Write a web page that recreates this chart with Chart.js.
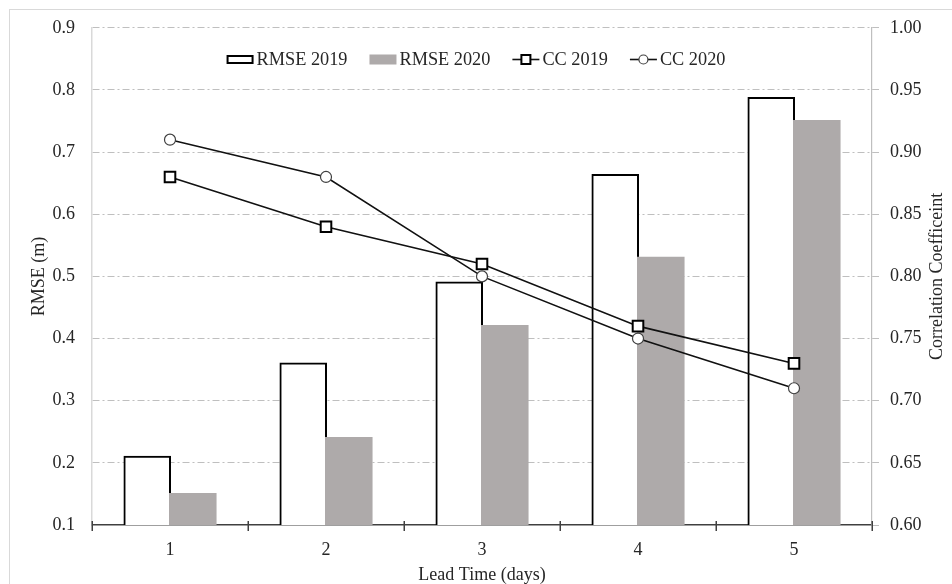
<!DOCTYPE html>
<html>
<head>
<meta charset="utf-8">
<script src="https://cdn.jsdelivr.net/npm/chart.js@4"></script>
<style>
  html, body { margin: 0; padding: 0; background: #ffffff; }
  #wrap { width: 952px; height: 584px; }
</style>
</head>
<body>
<div id="wrap"><canvas id="chart" width="952" height="584"></canvas></div>
<script>
// Forecast skill versus lead time
const leadDays = ['1', '2', '3', '4', '5'];
const rmse2019 = [0.21, 0.36, 0.49, 0.663, 0.787];
const rmse2020 = [0.15, 0.24, 0.42, 0.53, 0.75];
const cc2019 = [0.88, 0.84, 0.81, 0.76, 0.73];
const cc2020 = [0.91, 0.88, 0.80, 0.75, 0.71];

const seriesLabels = ['RMSE 2019', 'RMSE 2020', 'CC 2019', 'CC 2020'];
const xTitle = 'Lead Time (days)';
const yTitle = 'RMSE (m)';
const y1Title = 'Correlation Coefficeint';

const FONT = "'Liberation Serif', 'Times New Roman', serif";
const TEXT = '#262626';
const GRID = '#bfbfbf';
const BAR_GREY = '#aeaaaa';

// White page with a light frame round the figure
const framePlugin = {
  id: 'frame',
  beforeDraw(chart) {
    const ctx = chart.ctx;
    ctx.save();
    ctx.fillStyle = '#ffffff';
    ctx.fillRect(0, 0, chart.width, chart.height);
    ctx.strokeStyle = '#d9d9d9';
    ctx.lineWidth = 1;
    ctx.strokeRect(9.5, 9.5, chart.width + 20, chart.height + 20);
    ctx.restore();
  }
};

// The outlined 2019 bars sit on the left of each pair but are painted
// underneath the grey 2020 bars, so the grey bar hides the shared edge.
const barLayerPlugin = {
  id: 'barLayer',
  beforeDatasetDraw(chart, args) {
    if (args.index === 1) {
      const a = chart.chartArea;
      const ctx = chart.ctx;
      ctx.save();
      ctx.beginPath();
      ctx.rect(a.left, a.top, a.right - a.left, a.bottom - a.top);
      ctx.clip();
      chart.getDatasetMeta(0).controller.draw();
      ctx.restore();
    } else if (args.index === 0) {
      return false;
    }
  }
};

// Tick marks that cross the category axis at the category boundaries
const crossTicksPlugin = {
  id: 'crossTicks',
  afterDraw(chart) {
    const x = chart.scales.x;
    const ctx = chart.ctx;
    const yb = chart.chartArea.bottom;
    ctx.save();
    ctx.strokeStyle = '#404040';
    ctx.lineWidth = 1.5;
    for (let i = 0; i <= leadDays.length; i++) {
      const px = Math.round(x.getPixelForValue(i - 0.5)) + 0.25;
      ctx.beginPath();
      ctx.moveTo(px, yb - 4);
      ctx.lineTo(px, yb + 6);
      ctx.stroke();
    }
    ctx.restore();
  }
};

// Right-hand axis title, reading upward
const rightTitlePlugin = {
  id: 'rightTitle',
  afterDraw(chart) {
    const ctx = chart.ctx;
    const a = chart.chartArea;
    ctx.save();
    ctx.translate(937, (a.top + a.bottom) / 2);
    ctx.rotate(-Math.PI / 2);
    ctx.font = '18px ' + FONT;
    ctx.fillStyle = TEXT;
    ctx.textAlign = 'center';
    ctx.textBaseline = 'middle';
    ctx.fillText(y1Title, 0, 0);
    ctx.restore();
  }
};

// Legend row drawn inside the plot, above the data
const legendPlugin = {
  id: 'insideLegend',
  afterDraw(chart) {
    const ctx = chart.ctx;
    const ds = chart.data.datasets;
    ctx.save();
    ctx.font = '18.3px ' + FONT;
    const sym = 27, gapText = 3, gapItem = 22;
    const widths = ds.map(d => ctx.measureText(d.label).width);
    const total = widths.reduce((s, w) => s + sym + gapText + w, 0) + gapItem * (ds.length - 1);
    let x = chart.width / 2 - total / 2;
    const y = 59.5;
    ds.forEach((d, i) => {
      if (d.type === 'bar') {
        if (d.borderWidth) {
          ctx.fillStyle = d.backgroundColor;
          ctx.fillRect(x, y - 4.5, sym, 9);
          ctx.lineWidth = d.borderWidth;
          ctx.strokeStyle = d.borderColor;
          ctx.strokeRect(x + 1, y - 3.5, sym - 2, 7);
        } else {
          ctx.fillStyle = d.backgroundColor;
          ctx.fillRect(x, y - 5, sym, 10);
        }
      } else {
        ctx.strokeStyle = d.borderColor;
        ctx.lineWidth = d.borderWidth;
        ctx.beginPath();
        ctx.moveTo(x, y);
        ctx.lineTo(x + sym, y);
        ctx.stroke();
        const cx = x + sym / 2;
        ctx.fillStyle = '#ffffff';
        ctx.strokeStyle = d.pointBorderColor;
        ctx.lineWidth = d.pointBorderWidth;
        ctx.beginPath();
        if (d.pointStyle === 'rect') {
          ctx.rect(cx - 4.5, y - 4.5, 9, 9);
        } else {
          ctx.arc(cx, y, 4.5, 0, Math.PI * 2);
        }
        ctx.fill();
        ctx.stroke();
      }
      ctx.fillStyle = TEXT;
      ctx.textAlign = 'left';
      ctx.textBaseline = 'middle';
      ctx.fillText(d.label, x + sym + gapText, y + 1);
      x += sym + gapText + widths[i] + gapItem;
    });
    ctx.restore();
  }
};

new Chart(document.getElementById('chart'), {
  type: 'bar',
  data: {
    labels: leadDays,
    datasets: [
      {
        type: 'bar',
        label: seriesLabels[0],
        data: rmse2019,
        yAxisID: 'y',
        backgroundColor: '#ffffff',
        borderColor: '#000000',
        borderWidth: 2,
        borderSkipped: 'start',
        inflateAmount: 1,
        barPercentage: 1,
        categoryPercentage: 0.584,
        order: 2
      },
      {
        type: 'bar',
        label: seriesLabels[1],
        data: rmse2020,
        yAxisID: 'y',
        backgroundColor: BAR_GREY,
        borderWidth: 0,
        inflateAmount: 1,
        barPercentage: 1,
        categoryPercentage: 0.584,
        order: 3
      },
      {
        type: 'line',
        label: seriesLabels[2],
        data: cc2019,
        yAxisID: 'y1',
        borderColor: '#111111',
        borderWidth: 1.6,
        pointStyle: 'rect',
        pointRadius: 7.5,
        pointBorderWidth: 2,
        pointBorderColor: '#000000',
        pointBackgroundColor: '#ffffff',
        tension: 0,
        order: 1
      },
      {
        type: 'line',
        label: seriesLabels[3],
        data: cc2020,
        yAxisID: 'y1',
        borderColor: '#111111',
        borderWidth: 1.6,
        pointStyle: 'circle',
        pointRadius: 5.5,
        pointBorderWidth: 1.2,
        pointBorderColor: '#404040',
        pointBackgroundColor: '#ffffff',
        tension: 0,
        order: 0
      }
    ]
  },
  options: {
    responsive: false,
    animation: false,
    events: [],
    layout: { padding: { top: 26, left: 0, right: 0, bottom: 0 } },
    plugins: {
      legend: { display: false },
      tooltip: { enabled: false },
      title: { display: false }
    },
    scales: {
      x: {
        type: 'category',
        offset: true,
        grid: { display: false },
        border: { display: true, color: '#404040', width: 1.5 },
        ticks: { color: TEXT, font: { family: FONT, size: 18 }, padding: 6, maxRotation: 0 },
        title: {
          display: true, text: xTitle, color: TEXT,
          font: { family: FONT, size: 18 }, padding: { top: 0, bottom: -2 }
        },
        afterFit(scale) { scale.height = 59; }
      },
      y: {
        type: 'linear',
        position: 'left',
        min: 0.1,
        max: 0.9,
        grid: {
          drawTicks: false,
          lineWidth: 1,
          color: c => (c.index === 0 ? 'rgba(0,0,0,0)' : GRID)
        },
        border: { display: true, color: '#d9d9d9', width: 1.5, dash: [7, 3, 2, 3] },
        ticks: {
          stepSize: 0.1,
          padding: 17,
          color: TEXT,
          font: { family: FONT, size: 18 },
          callback: v => Number(v).toFixed(1)
        },
        title: {
          display: true, text: yTitle, color: TEXT,
          font: { family: FONT, size: 18 }, padding: { top: 28, bottom: 0 }
        },
        afterFit(scale) { scale.width = 92; }
      },
      y1: {
        type: 'linear',
        position: 'right',
        min: 0.6,
        max: 1.0,
        grid: {
          drawOnChartArea: false,
          drawTicks: true,
          tickLength: 7,
          tickColor: GRID,
          tickWidth: 1
        },
        border: { display: true, color: GRID, width: 1.2 },
        ticks: {
          stepSize: 0.05,
          padding: 11,
          color: TEXT,
          font: { family: FONT, size: 18 },
          callback: v => Number(v).toFixed(2)
        },
        title: { display: false },
        afterFit(scale) { scale.width = 80; }
      }
    }
  },
  plugins: [framePlugin, barLayerPlugin, crossTicksPlugin, rightTitlePlugin, legendPlugin]
});
</script>
</body>
</html>
